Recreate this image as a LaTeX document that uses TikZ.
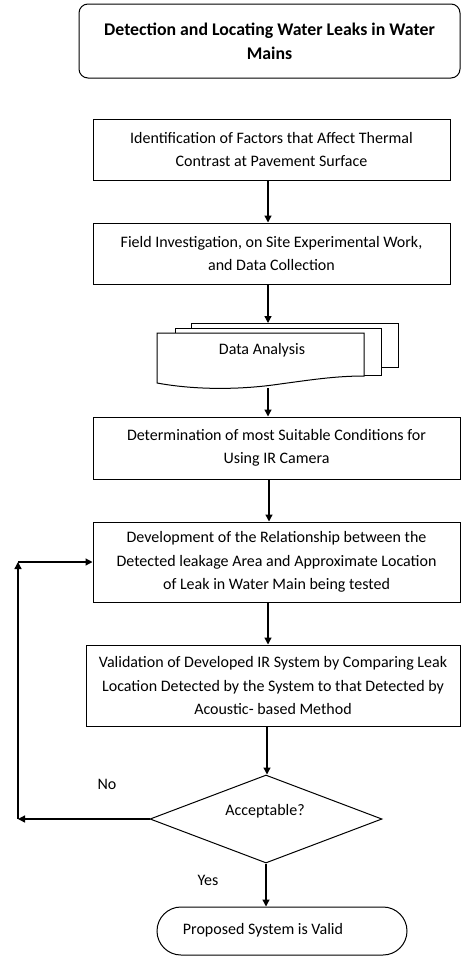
\documentclass[tikz,border=0pt]{standalone}
\usepackage{fontspec}
\setmainfont{Carlito}
\usetikzlibrary{arrows.meta,shapes.geometric}
\begin{document}
\begin{tikzpicture}[x=1pt,y=-1pt,
  txt/.style={font=\fontsize{16}{23.5}\selectfont, align=center},
  box/.style={draw=black, line width=1pt, txt, inner sep=0pt},
  arr/.style={draw=black, line width=1.3pt, -{Triangle[length=7pt,width=7pt]}},
  sheet/.style={draw=black, line width=1pt, fill=white}]
\useasboundingbox (0,0) rectangle (461,956);
% title
\node[box, rounded corners=9pt, minimum width=381pt, minimum height=74pt, font=\fontsize{17.8}{24}\selectfont\bfseries] (title) at (269.5,41)
  {Detection and Locating Water Leaks in Water\\Mains};
% boxes
\node[box, minimum width=357pt, minimum height=61pt] (b1) at (271.5,149.5)
  {Identification of Factors that Affect Thermal\\Contrast at Pavement Surface};
\node[box, minimum width=357pt, minimum height=61pt] (b2) at (271.5,253.5)
  {Field Investigation, on Site Experimental Work,\\and Data Collection};
% multi-document
\draw[sheet] (191,323) rectangle (398,367);
\draw[sheet] (175,328) rectangle (381,375);
\draw[sheet] (157,383) -- (157,333) -- (364,333) -- (364,376)
  .. controls (335,376) and (310,380) .. (280,384)
  .. controls (240,390) and (195,390) .. (157,383) -- cycle;
\node[txt] (doc) at (262,350) {Data Analysis};
\coordinate (doctop) at (268,323);
\coordinate (docbot) at (268,388);
\node[box, minimum width=367pt, minimum height=62pt] (b3) at (276.5,448)
  {Determination of most Suitable Conditions for\\Using IR Camera};
\node[box, minimum width=367pt, minimum height=80pt] (b4) at (276.5,562)
  {Development of the Relationship between the\\Detected leakage Area and Approximate Location\\of Leak in Water Main being tested};
\node[box, minimum width=374pt, minimum height=81pt] (b5) at (273,685.5)
  {Validation of Developed IR System by Comparing Leak\\Location Detected by the System to that Detected by\\Acoustic- based Method};
\node[draw=black, line width=1pt, diamond, minimum width=232pt, minimum height=88pt, inner sep=0pt] (dia) at (266,819) {};
\node[txt] (acc) at (265,811) {Acceptable?};
\node[draw=black, line width=1pt, rounded corners=24pt, minimum width=250pt, minimum height=48pt] (term) at (282,931) {};
\node[txt] (termtxt) at (263,930) {Proposed System is Valid};
\node[txt] (no) at (107,784) {No};
\node[txt] (yes) at (208,880) {Yes};
% arrow columns
\coordinate (c268) at (268,0);
\coordinate (c269) at (269,0);
\coordinate (c267) at (267,0);
\draw[arr] (b1.south -| c268) -- (b2.north -| c268);
\draw[arr] (b2.south -| c268) -- (doctop);
\draw[arr] (docbot) -- (b3.north -| c268);
\draw[arr] (b3.south -| c269) -- (b4.north -| c269);
\draw[arr] (b4.south -| c268) -- (b5.north -| c268);
\draw[arr] (b5.south -| c267) -- (dia.north -| c267);
\draw[arr] (dia.south) -- (term.north -| dia.south);
% feedback loop
\coordinate (lb) at (18,819);
\coordinate (lt) at (18,562);
\draw[arr] (dia.west) -- (lb);
\draw[arr] (lb) -- (lt);
\draw[arr] (lt) -- (b4.west);
\end{tikzpicture}
\end{document}
